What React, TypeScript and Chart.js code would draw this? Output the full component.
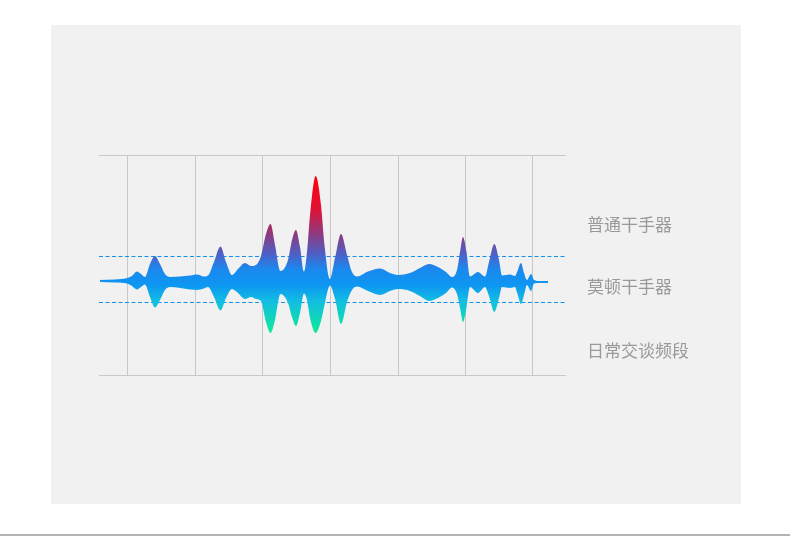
import { useEffect, useRef } from 'react';
import { Chart, registerables } from 'chart.js';

Chart.register(...registerables);

// frequency position (x) with the upper / lower envelope of the waveform
const freq = [
  1, 16, 28, 33, 38, 42, 46, 51, 56, 61, 66, 71, 81, 91, 98, 105, 109, 115, 121.5, 127, 133,
  139, 146, 152, 157, 162, 167, 171.5, 176, 181.5, 189, 193, 197, 201, 205, 208, 211, 216.7,
  222, 225.5, 231, 236, 242, 248, 253, 258, 269, 281, 291, 299, 311, 321, 330, 339, 347, 353,
  358, 361, 364, 367.5, 371, 379, 386, 390, 395.3, 400, 403, 411, 416, 418.5, 422, 425, 428,
  432, 435, 441, 449,
];
const upper = [
  1, 1.5, 3, 5, 9.5, 7, 4, 17, 25, 17, 7, 4, 4.5, 5.5, 6.5, 4.5, 5.5, 19, 34.5, 19, 6,
  12, 18, 15, 16, 25, 47, 57, 36, 10, 21, 41, 51, 34, 9.5, 29, 66, 105,
  76, 36, 2, 23, 47, 26, 9, 4.5, 9.5, 12.5, 8, 6, 8, 13, 17, 14, 9, 4,
  11, 29, 44, 29, 4.5, 9, 4.5, 19, 37, 21, 5.5, 6.5, 5, 10, 18, 8, 1,
  7, 1, 0, 0,
];
const lower = [
  -1, -1.5, -2.5, -5, -8.5, -6, -3.5, -16, -26.5, -19, -9, -6, -7, -8.5, -9, -7.5, -6, -16, -29.5, -17, -8,
  -12, -18, -16, -18, -20, -41, -52, -39, -13, -22, -36, -45, -32, -12.5, -19, -37, -52,
  -40, -24, -4.5, -18, -43, -21, -9, -5.5, -10, -14, -10, -8, -10, -15, -20, -17, -12, -6.5,
  -13, -27, -41, -27, -6, -12, -6, -15, -31, -17, -6, -7, -6, -13, -23, -14, -4,
  -10, -2.5, -2, -2,
];

const gridX = [28, 96, 163, 231, 299, 366, 433];
const xMin = 0;
const xMax = 467;
const yMin = -94;
const yMax = 126;
const bandHigh = 24.5;
const bandLow = -21.5;

const sideLabels = ['普通干手器', '莫顿干手器', '日常交谈频段'];
const labelCenters = [225, 287, 350.5];

// colour stops of the waveform, by y value
const gradValues = [101, 71, 46, 26, 12, -4, -20, -50];
const gradColors = ['#ff0010', '#dc1438', '#8a3c84', '#4a62c8', '#1b88ee', '#0d96f2', '#12bde2', '#0fe89c'];

const waveFill = (context: any) => {
  const chart = context.chart;
  const { chartArea, scales } = chart;
  if (!chartArea || !scales.y) return '#1590f0';
  const y = scales.y;
  const top = y.getPixelForValue(gradValues[0]);
  const bottom = y.getPixelForValue(gradValues[gradValues.length - 1]);
  const g = chart.ctx.createLinearGradient(0, top, 0, bottom);
  gradValues.forEach((v, i) => {
    g.addColorStop((y.getPixelForValue(v) - top) / (bottom - top), gradColors[i]);
  });
  return g;
};

const WaveChart = () => {
  const canvasRef = useRef<HTMLCanvasElement>(null);

  useEffect(() => {
    if (!canvasRef.current) return;
    const chart = new Chart(canvasRef.current, {
      type: 'line',
      data: {
        datasets: [
          {
            data: freq.map((x, i) => ({ x, y: upper[i] })),
            fill: '+1',
            backgroundColor: waveFill,
            borderWidth: 0,
            borderColor: 'transparent',
            pointRadius: 0,
            cubicInterpolationMode: 'monotone',
            order: 0,
          },
          {
            data: freq.map((x, i) => ({ x, y: lower[i] })),
            fill: false,
            borderWidth: 0,
            borderColor: 'transparent',
            pointRadius: 0,
            cubicInterpolationMode: 'monotone',
            order: 0,
          },
          {
            data: [{ x: xMin, y: bandHigh }, { x: xMax, y: bandHigh }],
            fill: false,
            borderColor: '#1190ee',
            borderWidth: 1,
            borderDash: [4, 2.5],
            pointRadius: 0,
            order: 5,
          },
          {
            data: [{ x: xMin, y: bandLow }, { x: xMax, y: bandLow }],
            fill: false,
            borderColor: '#1190ee',
            borderWidth: 1,
            borderDash: [4, 2.5],
            pointRadius: 0,
            order: 5,
          },
        ],
      },
      options: {
        animation: false,
        responsive: false,
        maintainAspectRatio: false,
        layout: { padding: { left: 48, right: 175, top: 130, bottom: 129 } },
        plugins: { legend: { display: false }, tooltip: { enabled: false } },
        scales: {
          x: {
            type: 'linear',
            min: xMin,
            max: xMax,
            afterBuildTicks: (s: any) => {
              s.ticks = gridX.map((v) => ({ value: v }));
            },
            ticks: { display: false },
            grid: { color: '#c8c8c8', drawTicks: false },
            border: { display: false },
          },
          y: {
            min: yMin,
            max: yMax,
            afterBuildTicks: (s: any) => {
              s.ticks = [{ value: yMin }, { value: yMax }];
            },
            ticks: { display: false },
            grid: { color: '#c8c8c8', drawTicks: false },
            border: { display: false },
          },
        },
      },
    } as any);

    return () => {
      chart.destroy();
    };
  }, []);

  return <canvas ref={canvasRef} width={690} height={479} style={{ display: 'block' }} />;
};

export default function App() {
  return (
    <div
      style={{
        position: 'absolute',
        left: 0,
        top: 0,
        width: 790,
        height: 536,
        background: '#ffffff',
        fontFamily: '"Noto Sans CJK SC", "Noto Sans", sans-serif',
      }}
    >
      <div style={{ position: 'absolute', left: 51, top: 25, width: 690, height: 479, background: '#f1f1f1' }}>
        <WaveChart />
      </div>
      {sideLabels.map((t, i) => (
        <div
          key={t}
          style={{
            position: 'absolute',
            left: 587,
            top: labelCenters[i] - 11,
            height: 20,
            lineHeight: '20px',
            fontSize: 17,
            color: '#999999',
            whiteSpace: 'nowrap',
          }}
        >
          {t}
        </div>
      ))}
      <div style={{ position: 'absolute', left: 0, top: 534, width: 790, height: 2, background: '#b4b4b4' }} />
    </div>
  );
}
